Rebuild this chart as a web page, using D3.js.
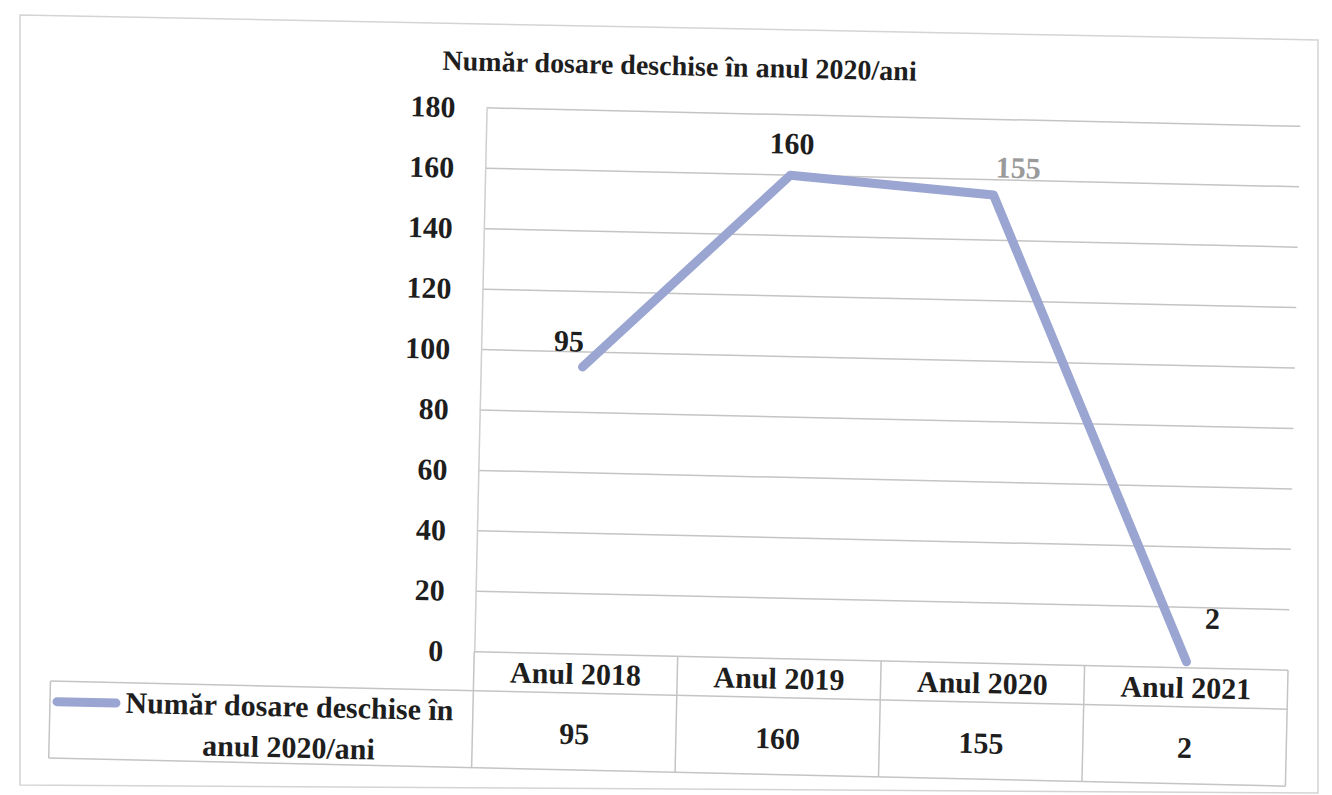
<!DOCTYPE html>
<html>
<head>
<meta charset="utf-8">
<script src="https://cdn.jsdelivr.net/npm/d3@7"></script>
<style>
  html, body { margin: 0; padding: 0; background: #fff; }
  svg { display: block; }
  text { font-family: "Liberation Serif", "Times New Roman", serif; font-weight: bold; }
</style>
</head>
<body>
<svg id="chart" width="1332" height="795"></svg>
<script>
// ---- data ----
const title = "Număr dosare deschise în anul 2020/ani";
const categories = ["Anul 2018", "Anul 2019", "Anul 2020", "Anul 2021"];
const values = [95, 160, 155, 2];
const seriesName = ["Număr dosare deschise în", "anul 2020/ani"];
const yTicks = [0, 20, 40, 60, 80, 100, 120, 140, 160, 180];

// ---- layout (not data) ----
const labelOffsets = [[-14, -26], [1, -32], [24, -28], [25, -44]];
const labelColors = ["#1e1e1e", "#1e1e1e", "#9a9a9a", "#1e1e1e"];
const plot = { left: 480, right: 1294, top: 112, bottom: 656 };
const table = { headerBottom: 695, bottom: 772, legendLeft: 57 };

const svg = d3.select("#chart");

// scanned page frame
svg.append("path")
  .attr("d", "M20,15 L1318,40 L1318,793 L20,785 Z")
  .attr("fill", "none").attr("stroke", "#d4d4d4").attr("stroke-width", 1.5);

const g = svg.append("g").attr("transform", "rotate(1.3,666,400)");

const x = d3.scaleBand().domain(categories).range([plot.left, plot.right]).padding(0);
const y = d3.scaleLinear().domain([0, 180]).range([plot.bottom, plot.top]);

// title
g.append("text")
  .attr("x", 672).attr("y", 75)
  .attr("text-anchor", "middle")
  .attr("font-size", 28).attr("fill", "#1e1e1e")
  .text(title);

// gridlines
g.append("g").selectAll("line").data(yTicks.filter(d => d > 0)).join("line")
  .attr("x1", plot.left).attr("x2", plot.right)
  .attr("y1", d => y(d)).attr("y2", d => y(d))
  .attr("stroke", "#c4c4c4").attr("stroke-width", 1.5);

// y axis
const yAxis = d3.axisLeft(y).tickValues(yTicks).tickSize(0).tickPadding(31);
const ya = g.append("g").attr("transform", `translate(${plot.left},0)`).call(yAxis);
ya.select(".domain").attr("stroke", "#cfcfcf").attr("stroke-width", 1.5);
ya.selectAll("text").attr("font-size", 30).attr("fill", "#1e1e1e")
  .style("font-family", "'Liberation Serif', serif").style("font-weight", "bold");

// data table (x axis with table)
const tg = g.append("g");
const tableStroke = "#c4c4c4";
[plot.bottom, table.headerBottom, table.bottom].forEach((yy, i) => {
  tg.append("line")
    .attr("x1", i === 0 ? plot.left : table.legendLeft).attr("x2", plot.right)
    .attr("y1", yy).attr("y2", yy)
    .attr("stroke", tableStroke).attr("stroke-width", 1.5);
});
const vlines = categories.map(c => x(c)).concat([plot.right]);
tg.selectAll("line.v").data(vlines).join("line").attr("class", "v")
  .attr("x1", d => d).attr("x2", d => d)
  .attr("y1", plot.bottom).attr("y2", table.bottom)
  .attr("stroke", tableStroke).attr("stroke-width", 1.5);
tg.append("line")
  .attr("x1", table.legendLeft).attr("x2", table.legendLeft)
  .attr("y1", table.headerBottom).attr("y2", table.bottom)
  .attr("stroke", tableStroke).attr("stroke-width", 1.5);

// headers
tg.selectAll("text.h").data(categories).join("text").attr("class", "h")
  .attr("x", d => x(d) + x.bandwidth() / 2)
  .attr("y", (plot.bottom + table.headerBottom) / 2)
  .attr("dy", "0.35em").attr("text-anchor", "middle")
  .attr("font-size", 30).attr("fill", "#1e1e1e")
  .text(d => d);
// values
tg.selectAll("text.v").data(values).join("text").attr("class", "v")
  .attr("x", (d, i) => x(categories[i]) + x.bandwidth() / 2)
  .attr("y", (table.headerBottom + table.bottom) / 2 + 2)
  .attr("dy", "0.35em").attr("text-anchor", "middle")
  .attr("font-size", 30).attr("fill", "#1e1e1e")
  .text(d => d);

// legend cell
const lcx = (table.legendLeft + plot.left) / 2 + 28;
const lcy = (table.headerBottom + table.bottom) / 2;
tg.append("line")
  .attr("x1", table.legendLeft + 7).attr("x2", table.legendLeft + 66)
  .attr("y1", lcy - 18).attr("y2", lcy - 18)
  .attr("stroke", "#9aa5d2").attr("stroke-width", 9).attr("stroke-linecap", "round");
tg.selectAll("text.l").data(seriesName).join("text").attr("class", "l")
  .attr("x", lcx)
  .attr("y", (d, i) => lcy - 19 + i * 41)
  .attr("dy", "0.35em").attr("text-anchor", "middle")
  .attr("font-size", 30).attr("fill", "#1e1e1e")
  .text(d => d);

// line
const line = d3.line()
  .x((d, i) => x(categories[i]) + x.bandwidth() / 2)
  .y(d => y(d));
g.append("path").datum(values)
  .attr("d", line)
  .attr("fill", "none")
  .attr("stroke", "#9aa5d2")
  .attr("stroke-width", 9)
  .attr("stroke-linecap", "round")
  .attr("stroke-linejoin", "round");

// data labels
g.selectAll("text.dl").data(values).join("text").attr("class", "dl")
  .attr("x", (d, i) => x(categories[i]) + x.bandwidth() / 2 + labelOffsets[i][0])
  .attr("y", (d, i) => y(d) + labelOffsets[i][1])
  .attr("dy", "0.35em").attr("text-anchor", "middle")
  .attr("font-size", 30).attr("fill", (d, i) => labelColors[i])
  .text(d => d);
</script>
</body>
</html>
